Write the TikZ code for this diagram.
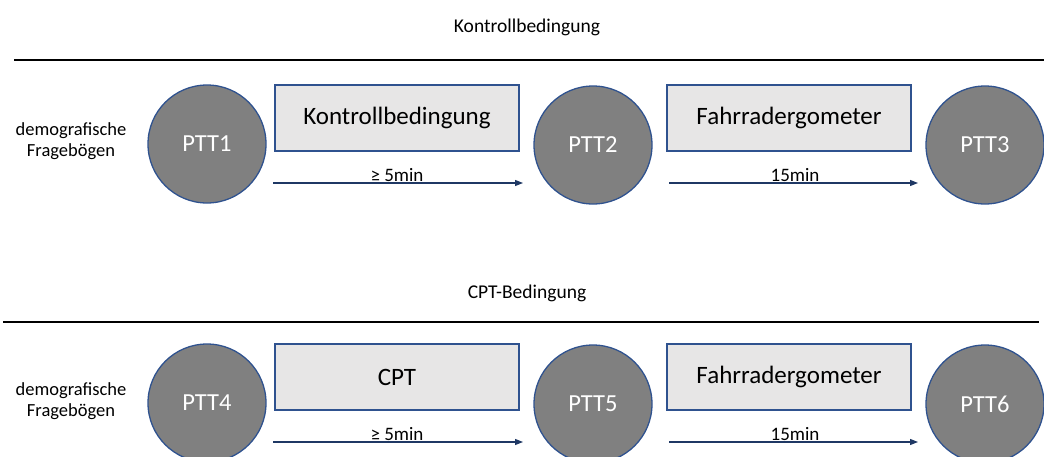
\documentclass[tikz,border=0pt]{standalone}
\usepackage{fontspec}
\setmainfont{Carlito}
\usepackage{tikz}
\usetikzlibrary{arrows.meta, positioning}
\usepackage{xcolor}
\definecolor{ttblue}{RGB}{47,82,143}
\definecolor{ttgray}{RGB}{128,128,128}
\definecolor{boxgray}{RGB}{231,230,230}
\definecolor{arrownavy}{RGB}{31,56,100}

\begin{document}
\begin{tikzpicture}[
    x=1pt, y=-1pt,
    test/.style={circle, draw=ttblue, fill=ttgray, line width=1.3pt, minimum size=118pt,
        inner sep=0pt, text=white, font=\fontsize{24.5}{28}\selectfont},
    phase/.style={rectangle, draw=ttblue, fill=boxgray, line width=1.3pt,
        minimum width=244pt, minimum height=66pt, font=\fontsize{25}{30}\selectfont},
    arr/.style={-{Triangle[length=8pt, width=6pt]}, line width=1.2pt, color=arrownavy},
    title/.style={font=\fontsize{19.5}{23}\selectfont},
    side/.style={font=\fontsize{18.5}{21}\selectfont, align=center},
    dur/.style={font=\fontsize{19}{22}\selectfont, anchor=base, inner sep=0pt},
    sep/.style={line width=#1, black},
]
\useasboundingbox (0,0) rectangle (1044,456);

% Row 1: Kontrollbedingung
\node[title] (title1) at (527,27) {Kontrollbedingung};
\coordinate (sep1l) at (14,60);
\coordinate (sep1r) at (1044,60);
\draw[sep=2pt] (sep1l) -- (sep1r);

\node[side] (quest1) at (71,141) {demografische\\Fragebögen};
\node[test] (ptt1) at (207,144) {PTT1};
\node[test] (ptt2) at (593,145) {PTT2};
\node[test] (ptt3) at (985,145) {PTT3};

\node[phase] (ctrl) at (397,118) {Kontrollbedingung};
\node[phase] (ergo1) at (789,118) {Fahrradergometer};

\coordinate (a1s) at (273,183);
\coordinate (a1e) at (523,183);
\coordinate (a2s) at (669,183);
\coordinate (a2e) at (918,183);
\draw[arr] (a1s) -- (a1e);
\draw[arr] (a2s) -- (a2e);
\node[dur] (d1) at (397,181) {≥ 5min};
\node[dur] (d2) at (795,181) {15min};

% Row 2: CPT-Bedingung
\node[title] (title2) at (527,293) {CPT-Bedingung};
\coordinate (sep2l) at (3,322);
\coordinate (sep2r) at (1039,322);
\draw[sep=1.6pt] (sep2l) -- (sep2r);

\node[side] (quest2) at (71,401) {demografische\\Fragebögen};
\node[test] (ptt4) at (207,403) {PTT4};
\node[test] (ptt5) at (593,404) {PTT5};
\node[test] (ptt6) at (985,404) {PTT6};

\node[phase] (cpt) at (397,377) {CPT};
\node[phase] (ergo2) at (789,377) {Fahrradergometer};

\coordinate (b1s) at (273,442);
\coordinate (b1e) at (523,442);
\coordinate (b2s) at (669,442);
\coordinate (b2e) at (918,442);
\draw[arr] (b1s) -- (b1e);
\draw[arr] (b2s) -- (b2e);
\node[dur] (d3) at (397,440) {≥ 5min};
\node[dur] (d4) at (795,440) {15min};

\end{tikzpicture}
\end{document}
